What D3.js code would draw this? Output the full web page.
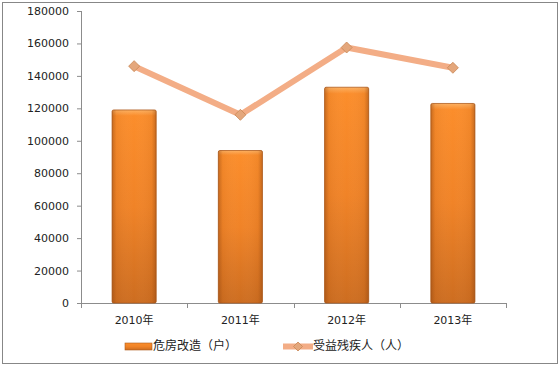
<!DOCTYPE html>
<html>
<head>
<meta charset="utf-8">
<script src="https://cdn.jsdelivr.net/npm/d3@7"></script>
<style>
  body { margin: 0; background: #fff; }
</style>
</head>
<body>
<div id="chart"></div>
<script>
// chart data
const years = ['2010年', '2011年', '2012年', '2013年'];
const houses = [119000, 94000, 133000, 123000];     // 危房改造（户）
const people = [146000, 116000, 157500, 145000];    // 受益残疾人（人）
const yTicks = [0, 20000, 40000, 60000, 80000, 100000, 120000, 140000, 160000, 180000];
const seriesNames = ['危房改造（户）', '受益残疾人（人）'];

const W = 559, H = 367;
const margin = { top: 11, right: 53, bottom: 64, left: 81 };
const w = W - margin.left - margin.right;
const h = H - margin.top - margin.bottom;
const font = "'DejaVu Sans', 'Noto Sans CJK SC', sans-serif";

const root = d3.select('#chart').append('svg')
  .attr('width', W).attr('height', H)
  .style('font-family', font);

// outer frame
root.append('rect')
  .attr('x', 2.5).attr('y', 2.5).attr('width', 555).attr('height', 361)
  .attr('fill', '#fff').attr('stroke', '#878787').attr('stroke-width', 1);

const defs = root.append('defs');
const gv = defs.append('linearGradient').attr('id', 'barV').attr('x1', 0).attr('x2', 0).attr('y1', 0).attr('y2', 1);
gv.append('stop').attr('offset', '0%').attr('stop-color', '#fdb060');
gv.append('stop').attr('offset', '3%').attr('stop-color', '#fb8d2b');
gv.append('stop').attr('offset', '50%').attr('stop-color', '#f08327');
gv.append('stop').attr('offset', '100%').attr('stop-color', '#cd6d20');
const gh = defs.append('linearGradient').attr('id', 'barH').attr('x1', 0).attr('x2', 1).attr('y1', 0).attr('y2', 0);
gh.append('stop').attr('offset', '0%').attr('stop-color', '#8a4210').attr('stop-opacity', 0.45);
gh.append('stop').attr('offset', '10%').attr('stop-color', '#8a4210').attr('stop-opacity', 0.08);
gh.append('stop').attr('offset', '50%').attr('stop-color', '#ffffff').attr('stop-opacity', 0);
gh.append('stop').attr('offset', '90%').attr('stop-color', '#8a4210').attr('stop-opacity', 0.08);
gh.append('stop').attr('offset', '100%').attr('stop-color', '#8a4210').attr('stop-opacity', 0.45);

const svg = root.append('g').attr('transform', `translate(${margin.left},${margin.top})`);

const x = d3.scaleBand().domain(years).range([0, w]).paddingInner(0.585).paddingOuter(0.2925);
const xc = d3.scaleBand().domain(years).range([0, w]);
const y = d3.scaleLinear().domain([0, 180000]).range([h, 0]);

// y axis
const yAxis = svg.append('g')
  .call(d3.axisLeft(y).tickValues(yTicks).tickSize(4).tickPadding(8).tickFormat(d3.format('d')));
yAxis.select('.domain').attr('stroke', '#8c8c8c').attr('d', `M0.5,0V${h}`);
yAxis.selectAll('line').attr('stroke', '#8c8c8c');
yAxis.selectAll('text').attr('fill', '#222').attr('font-size', '11px').attr('font-family', font);

// x axis
const xAxis = svg.append('g').attr('transform', `translate(0,${h})`);
xAxis.append('line').attr('x1', 0).attr('x2', w).attr('y1', 0.5).attr('y2', 0.5).attr('stroke', '#8c8c8c');
xAxis.selectAll('.tk').data(d3.range(years.length + 1)).join('line')
  .attr('x1', i => Math.round(i * xc.step()) + 0.5).attr('x2', i => Math.round(i * xc.step()) + 0.5)
  .attr('y1', 0).attr('y2', 5).attr('stroke', '#8c8c8c');
xAxis.selectAll('text').data(years).join('text')
  .attr('x', d => xc(d) + xc.bandwidth() / 2).attr('y', 21)
  .attr('text-anchor', 'middle').attr('font-size', '11px').attr('fill', '#222').text(d => d);

// bars
const bars = svg.append('g');
years.forEach((yr, i) => {
  const bx = x(yr), by = y(houses[i]), bw = x.bandwidth(), bh = h - y(houses[i]);
  bars.append('rect').attr('x', bx).attr('y', by).attr('width', bw).attr('height', bh)
    .attr('fill', 'url(#barV)').attr('stroke', '#b05c1c').attr('stroke-width', 0.8).attr('rx', 1.5);
  bars.append('rect').attr('x', bx).attr('y', by).attr('width', bw).attr('height', bh)
    .attr('fill', 'url(#barH)').attr('rx', 1.5);
});

// line
const line = d3.line().x((d, i) => xc(years[i]) + xc.bandwidth() / 2).y(d => y(d));
svg.append('path').datum(people).attr('d', line)
  .attr('fill', 'none').attr('stroke', '#f3ad86').attr('stroke-width', 6)
  .attr('stroke-linejoin', 'round');
svg.selectAll('.mk').data(people).join('path')
  .attr('transform', (d, i) => `translate(${xc(years[i]) + xc.bandwidth() / 2},${y(d)})`)
  .attr('d', 'M0,-5.5L5.5,0L0,5.5L-5.5,0Z')
  .attr('fill', '#e4a77c').attr('stroke', '#c98654').attr('stroke-width', 0.8);

// legend
const lg = root.append('g').attr('font-size', '12px').attr('fill', '#222');
lg.append('rect').attr('x', 125).attr('y', 343).attr('width', 27).attr('height', 7)
  .attr('fill', 'url(#barV)').attr('stroke', '#b05c1c').attr('stroke-width', 0.6);
lg.append('text').attr('x', 153).attr('y', 350).attr('font-family', "'Noto Sans CJK SC', sans-serif").text(seriesNames[0]);
lg.append('line').attr('x1', 283).attr('x2', 313).attr('y1', 346.5).attr('y2', 346.5)
  .attr('stroke', '#f3ad86').attr('stroke-width', 6);
lg.append('path').attr('transform', 'translate(298,346.5)').attr('d', 'M0,-4.5L4.5,0L0,4.5L-4.5,0Z')
  .attr('fill', '#e4a77c').attr('stroke', '#c98654').attr('stroke-width', 0.8);
lg.append('text').attr('x', 313).attr('y', 350).attr('font-family', "'Noto Sans CJK SC', sans-serif").text(seriesNames[1]);
</script>
</body>
</html>
